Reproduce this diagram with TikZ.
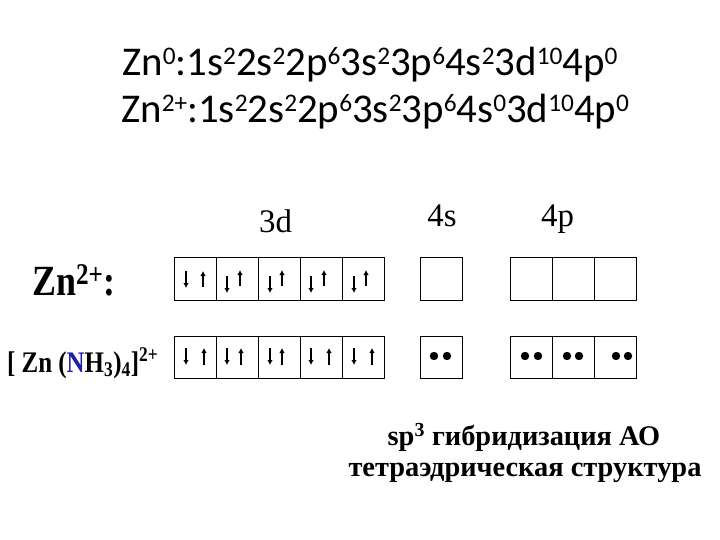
\documentclass[tikz,border=0pt]{standalone}
\usepackage{fontspec}
\setmainfont{Liberation Serif}
\newfontfamily\calibri{Carlito}
\usetikzlibrary{arrows.meta,calc}

\definecolor{nblue}{RGB}{30,30,170}
\newcommand\up[1]{\textsuperscript{#1}}
\newcommand\csup[1]{\raisebox{0.28em}{\scalebox{0.62}{#1}}}

\tikzset{
	orb/.style={draw, line width=1bp, minimum width=42bp, minimum height=42bp, inner sep=0pt, outer sep=0pt},
	spin/.style={->, line width=1.6bp},
	conf/.style={anchor=base west, inner sep=0pt, font=\calibri\fontsize{41}{46}\selectfont},
	sub/.style={anchor=base, inner sep=0pt, font=\fontsize{33}{38}\selectfont},
	rowlbl/.style={anchor=base west, inner sep=0pt, font=\bfseries},
	hyb/.style={anchor=base, inner sep=0pt, font=\bfseries\fontsize{28.5}{32}\selectfont}
}

\begin{document}
\begin{tikzpicture}[>={Latex[length=5bp,width=5.5bp]}, x=1bp, y=-1bp]
	\useasboundingbox (0,0) rectangle (720,540);
	% electron configurations
	\node[conf] (cfg0) at (122,76) {Zn\csup{0}:1s\csup{2}2s\csup{2}2p\csup{6}3s\csup{2}3p\csup{6}4s\csup{2}3d\csup{10}4p\csup{0}};
	\node[conf] (cfg2) at (121,123) {Zn\csup{2+}:1s\csup{2}2s\csup{2}2p\csup{6}3s\csup{2}3p\csup{6}4s\csup{0}3d\csup{10}4p\csup{0}};
	% sublevels
	\node[sub] (l3d) at (275.5,233) {3d};
	\node[sub] (l4s) at (442,227) {4s};
	\node[sub] (l4p) at (557.5,227) {4p};
	% row labels
	\node[rowlbl] (ion) at (32,295) {\scalebox{1}[1.2]{\fontsize{36}{40}\selectfont Zn\up{2+}:}};
	\node[rowlbl] (cplx) at (7,372) {\scalebox{1}[1.2]{\fontsize{25}{30}\selectfont [ Zn (\textcolor{nblue}{N}H\textsubscript{3})\textsubscript{4}]\up{2+}}};
	% orbital cells
	\foreach \i/\x in {1/195,2/237,3/279,4/321,5/363,6/441,7/531,8/573,9/615} {
		\node[orb] (a\i) at (\x,279) {};
		\node[orb] (b\i) at (\x,357) {};
	}
	% electrons of Zn2+ (3d)
	\foreach \i/\dx/\dt/\ux/\ub in {1/-9/-8/8/8, 2/-10/-3/3/7, 3/-9/-3/3/7, 4/-10/-3/3/7, 5/-9/-3/3/7} {
		\draw[spin] ($(a\i.center)+(\dx,\dt)$) -- ++(0,17);
		\draw[spin] ($(a\i.center)+(\ux,\ub)$) -- ++(0,-16);
	}
	% electrons of the complex (3d)
	\foreach \i/\dx/\ux in {1/-9/9, 2/-10/4, 3/-9/3, 4/-10/8, 5/-9/9} {
		\draw[spin] ($(b\i.center)+(\dx,-9)$) -- ++(0,17);
		\draw[spin] ($(b\i.center)+(\ux,8)$) -- ++(0,-17);
	}
	% lone pairs of NH3
	\foreach \i/\p/\q in {6/-7/6, 7/-6/7, 8/-6/6, 9/1/13} {
		\fill ($(b\i.center)+(\p,-1)$) circle (4.2);
		\fill ($(b\i.center)+(\q,-1)$) circle (4.2);
	}
	% hybridisation
	\node[hyb] (hyb1) at (524,445) {sp\up{3} гибридизация АО};
	\node[hyb] (hyb2) at (525,476) {тетраэдрическая структура};
\end{tikzpicture}
\end{document}
